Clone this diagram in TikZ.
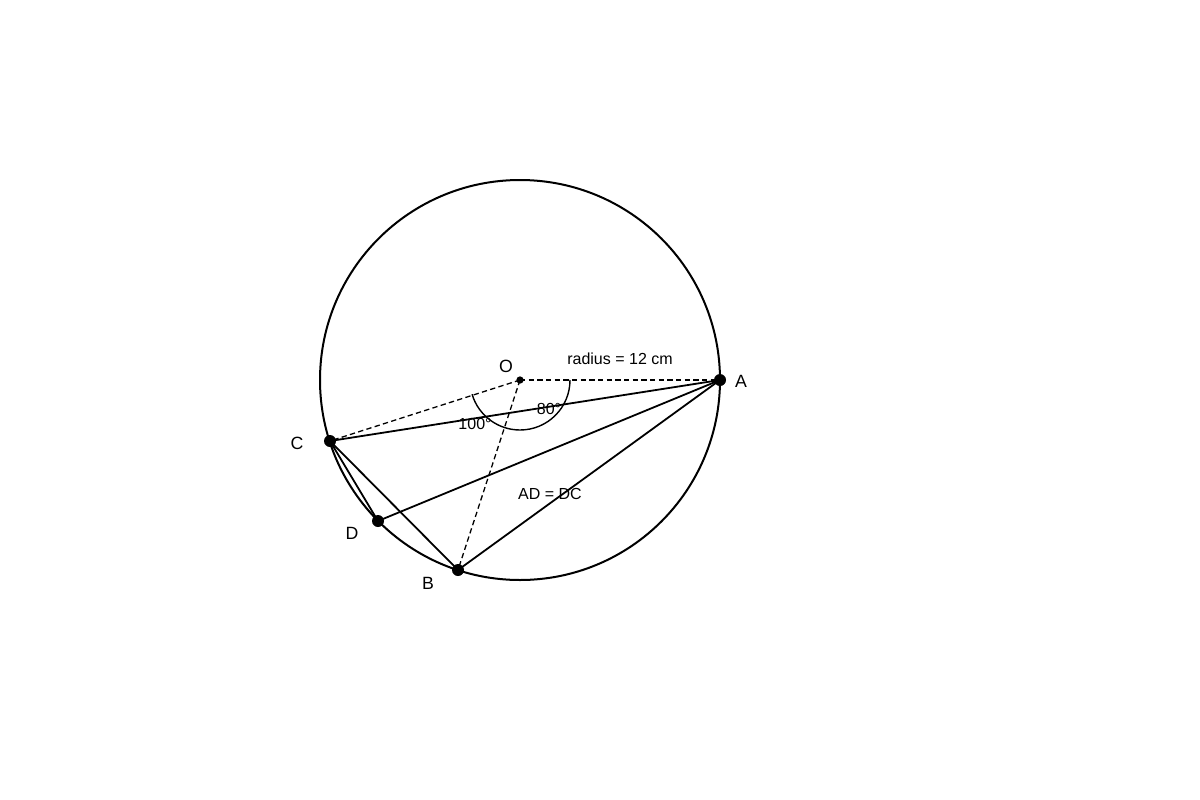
\documentclass[tikz,border=0pt]{standalone}
\usepackage{fontspec}
\setmainfont{Liberation Sans}
\begin{document}
\begin{tikzpicture}[x=0.75pt,y=-0.75pt,
  ln/.style={line width=1.8pt*0.75},
  dsh/.style={line width=1.3pt*0.75,dash pattern=on 4pt off 2.5pt},
  pt/.style={circle,fill=black,inner sep=0pt,minimum size=9pt},
  opt/.style={circle,fill=black,inner sep=0pt,minimum size=5.5pt},
  lbl/.style={font=\fontsize{13.3}{15}\selectfont,inner sep=0pt},
  sm/.style={font=\fontsize{12}{14}\selectfont,inner sep=0pt}]
\useasboundingbox (0,0) rectangle (1200,800);
\coordinate (O) at (520,380);
\draw[line width=2pt*0.75] (O) circle[radius=200];
\coordinate (Ac) at (720,380);
\coordinate (Cc) at (330,441);
\coordinate (Dc) at (378,521);
\coordinate (Bc) at (458,570);
% dashed radii
\draw[dsh] (O) -- (Ac);
\draw[dsh] (O) -- (Cc);
\draw[dsh] (O) -- (Bc);
% angle arc
\draw[line width=1.4pt*0.75] (O) ++(0:50) arc[start angle=0,end angle=163.5,radius=50];
% chords
\draw[ln] (Cc) -- (Ac);
\draw[ln] (Cc) -- (Dc);
\draw[ln] (Cc) -- (Bc);
\draw[ln] (Dc) -- (Ac);
\draw[ln] (Bc) -- (Ac);
% points
\node[opt] (o) at (O) {};
\node[pt] (a) at (Ac) {};
\node[pt] (c) at (Cc) {};
\node[pt] (d) at (Dc) {};
\node[pt] (b) at (Bc) {};
% labels
\node[lbl] (lo) at (506,366) {O};
\node[lbl] (la) at (741,381) {A};
\node[lbl] (lc) at (297,443) {C};
\node[lbl] (ld) at (352,533) {D};
\node[lbl] (lb) at (428,583) {B};
\node[sm] (rad) at (620,359) {radius = 12 cm};
\node[sm] (a80) at (549,409) {80°};
\node[sm] (a100) at (475,424) {100°};
\node[sm] (adc) at (550,494) {AD = DC};
\end{tikzpicture}
\end{document}
